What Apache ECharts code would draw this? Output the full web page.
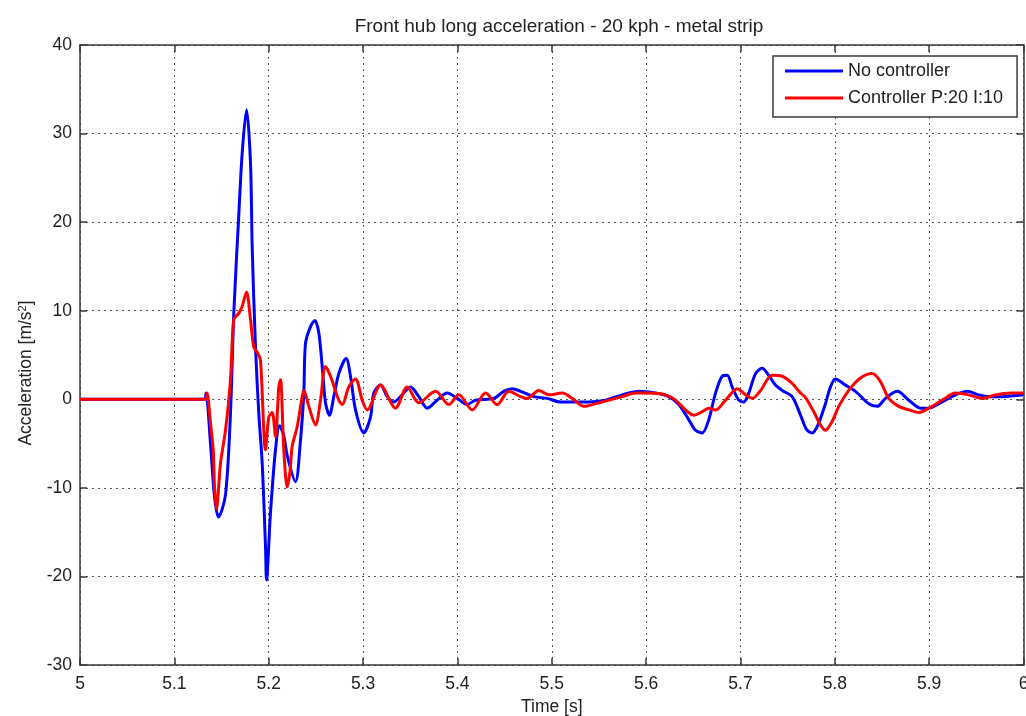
<!DOCTYPE html>
<html>
<head>
<meta charset="utf-8">
<title>Front hub long acceleration</title>
<script src="https://cdn.jsdelivr.net/npm/echarts@6/dist/echarts.min.js"></script>
<style>
  html, body { margin: 0; padding: 0; background: #ffffff; }
  #chart { width: 1026px; height: 716px; }
</style>
</head>
<body>
<div id="chart"></div>
<script>
// Time [s] and longitudinal acceleration [m/s²] of the front hub, no controller
const timeNoCtrl = [
  5.000, 5.132, 5.1335, 5.1383, 5.1426, 5.1468, 5.1542, 5.1595, 5.1630, 5.1683,
  5.1719, 5.1765, 5.1807, 5.1825, 5.1860, 5.1895, 5.1931, 5.1966, 5.1977, 5.2019,
  5.2072, 5.2115, 5.2157, 5.2199, 5.2284, 5.2337, 5.2372, 5.2390, 5.2443, 5.2489,
  5.2531, 5.2567, 5.2602, 5.2644, 5.2690, 5.2743, 5.2821, 5.2867, 5.2920, 5.3008,
  5.3079, 5.3114, 5.3185, 5.3256, 5.3326, 5.3397, 5.3503, 5.3591, 5.3680, 5.3786,
  5.3892, 5.3998, 5.4104, 5.4192, 5.4386, 5.4492, 5.4581, 5.4669, 5.4810, 5.4952,
  5.5093, 5.5252, 5.5393, 5.5570, 5.5747, 5.5923, 5.6100, 5.6241, 5.6347, 5.6452,
  5.6524, 5.6595, 5.6664, 5.6736, 5.6807, 5.6860, 5.6912, 5.6982, 5.7035, 5.7088,
  5.7160, 5.7230, 5.7300, 5.7371, 5.7442, 5.7548, 5.7637, 5.7700, 5.7758, 5.7813,
  5.7901, 5.7954, 5.8007, 5.8113, 5.8219, 5.8360, 5.8449, 5.8537, 5.8664, 5.8784,
  5.8908, 5.8996, 5.9138, 5.9279, 5.9403, 5.9526, 5.9632, 5.9774, 6.000
];
const accelNoCtrl = [
  0, 0, 0.7, -5, -11, -13.3, -10.8, -1.5, 9.7, 20.8,
  27.8, 32.7, 26.7, 17.2, 5.9, -1.6, -7.2, -16.6, -20.4, -12.8,
  -5.7, -3.0, -4.0, -6.5, -9.3, -4.6, 0.7, 6.3, 8.2, 8.9,
  7.5, 3.7, -0.4, -1.8, 0.3, 2.9, 4.6, 2.6, -1.2, -3.8,
  -2.0, 0.7, 1.6, 0.3, -0.3, 0.3, 1.4, 0.3, -1.0, -0.1,
  0.7, 0.1, -0.6, -0.1, 0.1, 0.9, 1.2, 0.9, 0.3, 0.1,
  -0.3, -0.3, -0.3, -0.1, 0.5, 0.9, 0.7, 0.3, -0.6, -2.3,
  -3.5, -3.8, -2.3, 0.7, 2.6, 2.7, 1.4, -0.1, -0.3, 0.7,
  2.9, 3.5, 2.7, 1.6, 1.0, 0.3, -1.8, -3.4, -3.8, -3.1,
  -0.5, 1.4, 2.3, 1.6, 0.9, -0.5, -0.8, 0.1, 0.9, -0.1,
  -1.0, -1.0, -0.3, 0.5, 0.9, 0.5, 0.3, 0.3, 0.5
];

// Same signal with the P:20 I:10 controller active
const timeCtrl = [
  5.000, 5.1330, 5.1346, 5.1383, 5.1412, 5.1426, 5.1447, 5.1489, 5.1542, 5.1595,
  5.1630, 5.1683, 5.1719, 5.1765, 5.1807, 5.1842, 5.1884, 5.1913, 5.1966, 5.2001,
  5.2037, 5.2072, 5.2107, 5.2125, 5.2160, 5.2196, 5.2224, 5.2249, 5.2302, 5.2355,
  5.2372, 5.2425, 5.2496, 5.2549, 5.2602, 5.2655, 5.2743, 5.2779, 5.2849, 5.2920,
  5.2991, 5.3044, 5.3185, 5.3344, 5.3468, 5.3591, 5.3768, 5.3909, 5.4015, 5.4157,
  5.4298, 5.4422, 5.4545, 5.4669, 5.4740, 5.4863, 5.4969, 5.5111, 5.5217, 5.5340,
  5.5464, 5.5605, 5.5747, 5.5888, 5.6029, 5.6206, 5.6312, 5.6418, 5.6506, 5.6595,
  5.6664, 5.6736, 5.6842, 5.6966, 5.7054, 5.7125, 5.7213, 5.7336, 5.7442, 5.7548,
  5.7637, 5.7690, 5.7777, 5.7848, 5.7901, 5.7972, 5.8042, 5.8148, 5.8272, 5.8396,
  5.8484, 5.8572, 5.8678, 5.8784, 5.8890, 5.8996, 5.9138, 5.9279, 5.9420, 5.9562,
  5.9703, 5.9880, 6.000
];
const accelCtrl = [
  0, 0, 0.7, -2.7, -5.7, -9.9, -12.4, -7.2, -3.5, 2.2,
  9.0, 9.7, 10.5, 12.1, 9.0, 5.9, 5.2, 4.4, -5.7, -2.0,
  -1.5, -4.2, 1.4, 2.2, -5.7, -9.9, -8.3, -5.3, -3.1, 0.3,
  1.0, -0.8, -2.9, -0.1, 3.7, 2.6, -0.1, -0.6, 1.4, 2.3,
  -0.1, -1.2, 1.6, -1.0, 1.4, -0.4, 0.9, -0.6, 0.5, -1.2,
  0.7, -0.6, 0.9, 0.3, 0.1, 1.0, 0.5, 0.7, 0.1, -0.8,
  -0.5, -0.1, 0.3, 0.7, 0.7, 0.5, -0.1, -1.2, -1.8, -1.4,
  -1.0, -1.2, -0.1, 1.2, 0.5, 0.1, 1.0, 2.7, 2.6, 1.8,
  0.7, 0.2, -1.4, -2.9, -3.5, -2.5, -0.8, 1.0, 2.4, 2.9,
  2.0, 0.1, -0.8, -1.2, -1.5, -1.0, -0.1, 0.7, 0.5, 0.1,
  0.5, 0.7, 0.7
];

// Axis tick values
const xTicks = [5, 5.1, 5.2, 5.3, 5.4, 5.5, 5.6, 5.7, 5.8, 5.9, 6];
const yTicks = [-30, -20, -10, 0, 10, 20, 30, 40];

const seriesNames = ['No controller', 'Controller P:20 I:10'];
const titleText = 'Front hub long acceleration - 20 kph - metal strip';

const zip = (xs, ys) => xs.map((x, i) => [x, ys[i]]);

const FONT = '"Liberation Sans", Arial, sans-serif';
const AXIS_COLOR = '#3a3a3a';
const TEXT_COLOR = '#222222';
const FS = 17.5;

const chart = echarts.init(document.getElementById('chart'), null, { renderer: 'canvas' });

const commonX = {
  type: 'value',
  min: xTicks[0],
  max: xTicks[xTicks.length - 1],
  interval: 0.1,
  axisLine: { show: true, onZero: false, lineStyle: { color: AXIS_COLOR, width: 1.5 } },
  axisTick: { show: true, inside: true, length: 7, lineStyle: { color: AXIS_COLOR, width: 1.5 } }
};
const commonY = {
  type: 'value',
  min: yTicks[0],
  max: yTicks[yTicks.length - 1],
  interval: 10,
  axisLine: { show: true, onZero: false, lineStyle: { color: AXIS_COLOR, width: 1.5 } },
  axisTick: { show: true, inside: true, length: 7, lineStyle: { color: AXIS_COLOR, width: 1.5 } }
};

chart.setOption({
  animation: false,
  backgroundColor: '#ffffff',
  title: {
    text: titleText,
    left: 554,
    textAlign: 'center',
    top: 12,
    textStyle: { fontFamily: FONT, fontSize: 19, fontWeight: 'normal', color: TEXT_COLOR }
  },
  grid: {
    left: 80, top: 45, right: 2.5, bottom: 51,
    containLabel: false,
    outerBoundsMode: 'none'
  },
  legend: {
    orient: 'vertical',
    left: 773,
    top: 56,
    padding: [5, 14, 9, 12],
    itemGap: 7,
    itemWidth: 58,
    itemHeight: 3,
    icon: 'rect',
    backgroundColor: '#ffffff',
    borderColor: '#3a3a3a',
    borderWidth: 1.5,
    borderRadius: 0,
    textStyle: { fontFamily: FONT, fontSize: 18, lineHeight: 20, color: TEXT_COLOR },
    data: seriesNames
  },
  xAxis: [
    Object.assign({}, commonX, {
      position: 'bottom',
      name: 'Time [s]',
      nameLocation: 'middle',
      nameGap: 31,
      nameTextStyle: { fontFamily: FONT, fontSize: FS, color: TEXT_COLOR },
      axisLabel: {
        fontFamily: FONT, fontSize: FS, color: TEXT_COLOR, margin: 10,
        formatter: v => String(+v.toFixed(1))
      },
      splitLine: { show: true, lineStyle: { type: [2, 4], color: '#555555', width: 1 } }
    }),
    Object.assign({}, commonX, {
      position: 'top',
      axisLabel: { show: false },
      splitLine: { show: false }
    })
  ],
  yAxis: [
    Object.assign({}, commonY, {
      position: 'left',
      name: 'Acceleration [m/s{sup|2}]',
      nameLocation: 'middle',
      nameGap: 44,
      nameRotate: 90,
      nameTextStyle: {
        fontFamily: FONT, fontSize: FS, color: TEXT_COLOR,
        padding: [0, 36, 0, 0],
        rich: { sup: { fontFamily: FONT, fontSize: 11, color: TEXT_COLOR, verticalAlign: 'top', padding: [0, 0, 8, 0] } }
      },
      axisLabel: { fontFamily: FONT, fontSize: FS, color: TEXT_COLOR, margin: 8 },
      splitLine: { show: true, lineStyle: { type: [2, 4], color: '#555555', width: 1 } }
    }),
    Object.assign({}, commonY, {
      position: 'right',
      axisLabel: { show: false },
      splitLine: { show: false }
    })
  ],
  series: [
    {
      name: seriesNames[0],
      type: 'line',
      xAxisIndex: 0,
      yAxisIndex: 0,
      data: zip(timeNoCtrl, accelNoCtrl),
      symbol: 'none',
      smooth: 0.3,
      color: '#0000ff',
      lineStyle: { color: '#0000ff', width: 3 },
      z: 3
    },
    {
      name: seriesNames[1],
      type: 'line',
      xAxisIndex: 0,
      yAxisIndex: 0,
      data: zip(timeCtrl, accelCtrl),
      symbol: 'none',
      smooth: 0.3,
      color: '#ff0000',
      lineStyle: { color: '#ff0000', width: 3 },
      z: 4
    }
  ]
});
</script>
</body>
</html>
